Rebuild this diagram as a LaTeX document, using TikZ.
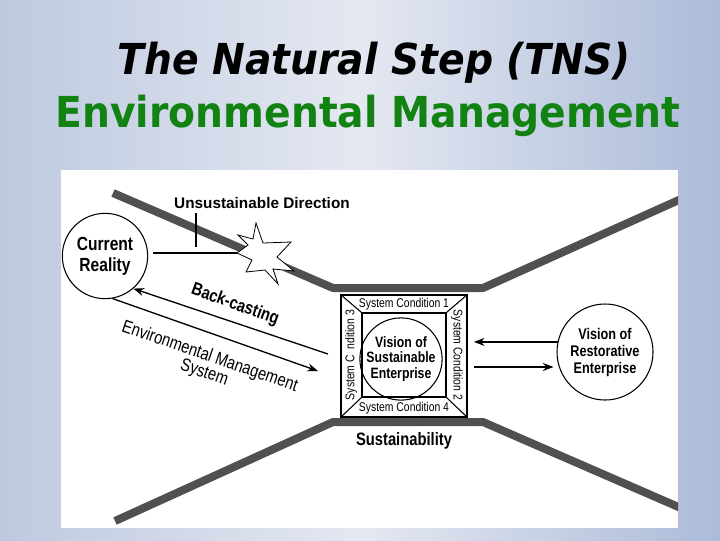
\documentclass[tikz,border=0pt]{standalone}
\usepackage{fontspec}
\usetikzlibrary{arrows.meta,calc}
\newfontfamily\titlefont{DejaVu Sans}[FakeStretch=0.92]
\newfontfamily\condfont{Liberation Sans}[FakeStretch=0.82]
\newfontfamily\arialfont{Liberation Sans}
\definecolor{bgL}{RGB}{190,201,224}
\definecolor{bgM}{RGB}{228,232,241}
\definecolor{bgR}{RGB}{172,187,217}
\definecolor{roadgray}{RGB}{80,80,80}
\definecolor{titlegreen}{RGB}{18,130,18}
\tikzset{
  road/.style={draw=roadgray, line width=6pt, line join=round},
  ring/.style={draw, circle, line width=0.8pt, inner sep=0pt, align=center},
  lab/.style={inner sep=0pt, align=center},
  thinline/.style={line width=0.8pt},
  arr/.style={line width=1pt, -{Stealth[length=8pt,width=6pt]}},
  sclab/.style={inner sep=0pt, font=\condfont\fontsize{9.5pt}{10pt}\selectfont}
}
\begin{document}
\begin{tikzpicture}[x=0.75pt,y=-0.75pt]
\useasboundingbox (0,0) rectangle (720,540);
\shade[left color=bgL, right color=bgR, middle color=bgM] (0,0) rectangle (720,540);
% titles
\node[lab, anchor=base, font=\titlefont\bfseries\itshape\fontsize{32pt}{36pt}\selectfont] (t1) at (374,74) {The Natural Step (TNS)};
\node[lab, anchor=base, text=titlegreen, font=\titlefont\bfseries\fontsize{32pt}{36pt}\selectfont] (t2) at (368,127) {Environmental Management};
% panel
\fill[white] (61,170) rectangle (678,528);
\begin{scope}
\clip (61,170) rectangle (678,528);
\draw[road] (113,193) -- (333,288) -- (483,288) -- (690,195);
\draw[road] (115,521) -- (333,422) -- (483,422) -- (690,512);
\end{scope}
% star
\filldraw[fill=white, draw=black, line width=0.6pt]
 (256,223) -- (263,243) -- (291,242) -- (277,257) -- (294,271) -- (273,269) -- (278,284)
 -- (265,270) -- (246,272) -- (252,260) -- (237,253) -- (248,245) -- (238,235) -- (253,239) -- cycle;
\coordinate (starL) at (237,253);
% labels
\node[lab, font=\arialfont\bfseries\fontsize{11.5pt}{13pt}\selectfont] (ud) at (262,203) {Unsustainable Direction};
\coordinate (tickT) at (196,213);
\coordinate (tickB) at (196,247);
\draw[thinline] (tickT) -- (tickB);
% circles
\node[ring, minimum size=64pt, font=\condfont\bfseries\fontsize{14.25pt}{15.75pt}\selectfont] (cr) at (105,256) {Current\\Reality};
\node[ring, minimum size=72pt, font=\condfont\bfseries\fontsize{11.6pt}{12.75pt}\selectfont] (vre) at (605,352) {Vision of\\Restorative\\Enterprise};
% box
\node[draw, line width=1.3pt, minimum width=94.5pt, minimum height=91.5pt, inner sep=0pt] (box) at (404,356) {};
\node[draw, line width=1pt, minimum size=63pt, inner sep=0pt] (ibox) at (404,355) {};
\draw[thinline] (box.north west) -- (ibox.north west);
\draw[thinline] (box.north east) -- (ibox.north east);
\draw[thinline] (box.south west) -- (ibox.south west);
\draw[thinline] (box.south east) -- (ibox.south east);
\node[ring, minimum size=52pt, font=\condfont\bfseries\fontsize{11.25pt}{11.6pt}\selectfont] (vse) at (401,359) {Vision of\\Sustainable\\Enterprise};
\node[sclab] (sc1) at (404,304) {System Condition 1};
\node[sclab, rotate=-90] (sc2) at (457,355) {System Condition 2};
\node[sclab, rotate=90] (sc3) at (351,355) {System C\phantom{o}ndition 3};
\node[sclab] (sc4) at (404,408) {System Condition 4};
\node[lab, font=\condfont\bfseries\fontsize{13.5pt}{15pt}\selectfont] (sus) at (404,441) {Sustainability};
% connectors
\draw[thinline] ($(cr.east |- starL)+(5,0)$) -- (starL);
\coordinate (bcs) at (328,354);
\coordinate (emse) at (318,371);
\draw[arr] (bcs) -- (cr.-49);
\draw[arr] (cr.-80) -- (emse);
\draw[arr, shorten >=4.5pt] (vre.168) -- (box.east |- vre.168);
\draw[arr, shorten <=4.5pt, shorten >=4pt] (box.east |- vre.198) -- (vre.198);
\node[lab, rotate=-20, font=\condfont\bfseries\fontsize{13.5pt}{15pt}\selectfont] (bc) at (235,305) {Back-casting};
\node[lab, rotate=-19, font=\condfont\fontsize{13.5pt}{12.75pt}\selectfont] (ems) at (207,365) {Environmental Management\\System};
\end{tikzpicture}
\end{document}
